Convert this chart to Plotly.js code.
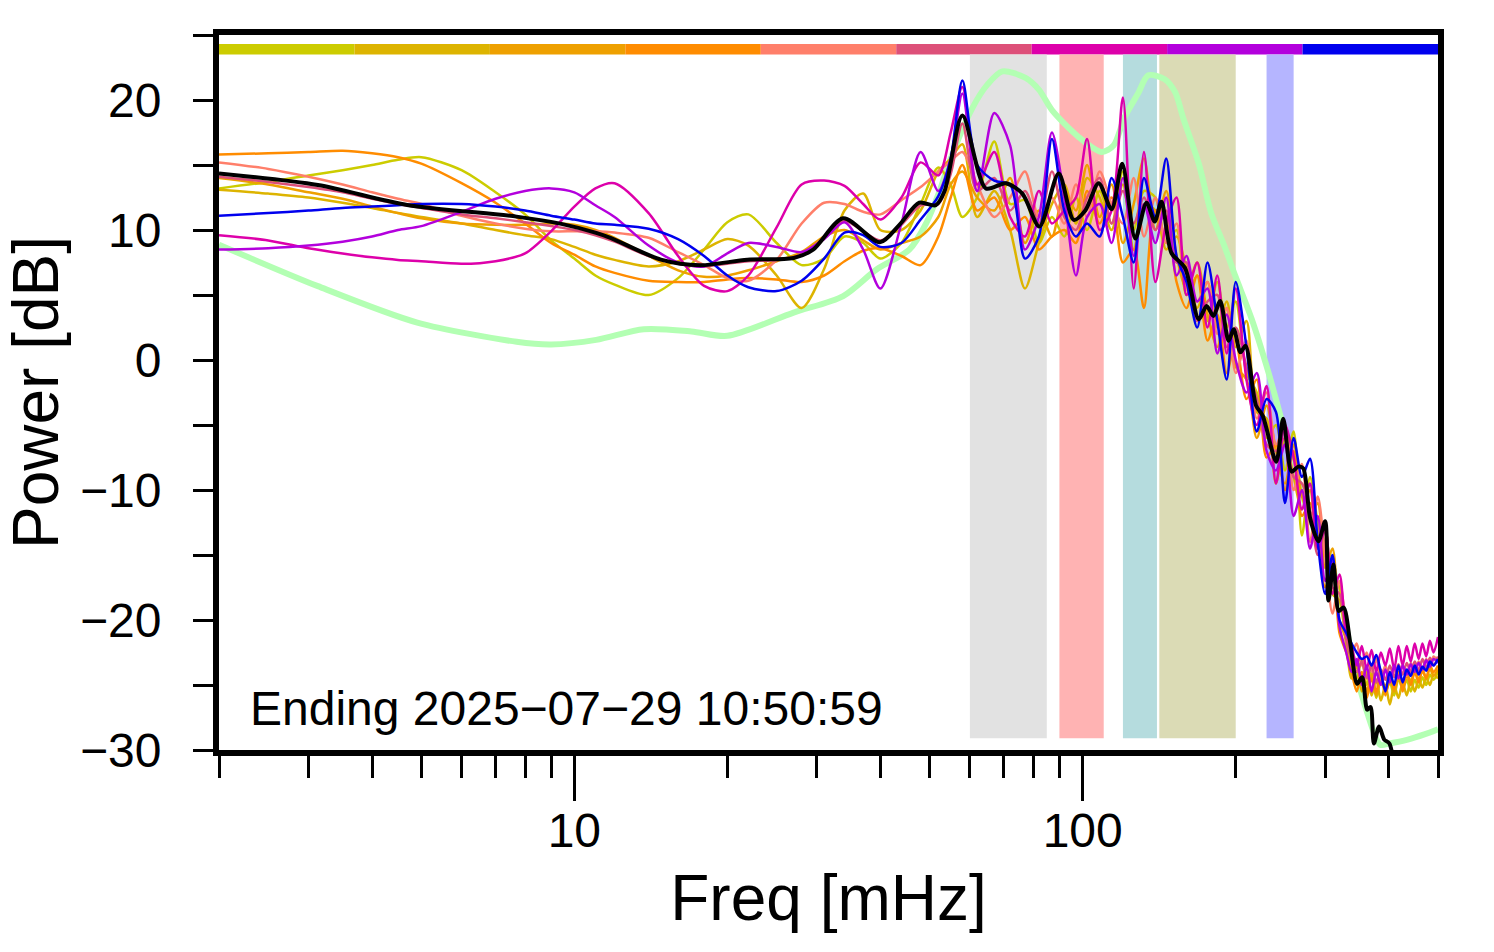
<!DOCTYPE html>
<html>
<head>
<meta charset="utf-8">
<script src="https://cdn.plot.ly/plotly-3.0.1.min.js"></script>
<style>html,body{margin:0;padding:0;background:#fff;}#chart{width:1494px;height:952px;}</style>
</head>
<body>
<div id="chart"></div>
<script>
// ---------- data ----------
const freq = [2, 2.5, 3, 3.5, 4, 4.5, 5, 6, 7, 8, 9, 10, 11, 12, 14, 16, 18, 20, 22, 25, 28, 31, 34, 37, 40, 44, 48, 52, 55, 58,
  62, 67, 72, 77, 82, 87, 92, 97, 102, 108, 114, 120, 126, 132, 139, 146, 153, 160, 168, 176, 184, 192, 200,
  210, 220, 230, 240, 250, 260, 270, 280, 290, 300, 310, 320, 330,
  338, 346, 354, 362, 370, 378, 386, 394, 402, 410, 418, 426, 434, 442, 450, 458, 466, 474, 482, 490, 500];

const pYellow = [13.2, 13.7, 14.2, 14.6, 15.0, 15.4, 15.6, 14.6, 12.9, 11.2, 9.2, 7.8, 6.5, 5.8, 5.0, 6.3, 8.5, 10.6, 11.2, 9.0, 7.3, 7.8, 9.5, 9.0, 7.8, 9.0, 12.0, 14.8, 13.5, 11.0,
  12.5, 16.8, 12.0, 12.3, 9.0, 11.0, 9.5, 12.5, 10.0, 13.0, 10.5, 14.5, 10.0, 13.0, 12.5, 9.0, 10.0, 5.0, 6.5, 3.0, 6.0, 2.5, 4.5,
  -1.0, -2.5, -6.0, -5.0, -8.5, -5.5, -13.5, -9.0, -12.5, -15.0, -16.5, -17.5, -21.0,
  -23.5, -24.5, -23.0, -25.0, -24.0, -26.0, -24.5, -25.5, -24.8, -25.8, -24.5, -25.3, -24.6, -25.5, -24.6, -25.2, -24.4, -25.0, -24.2, -24.6, -24.0];
const pGold = [13.1, 12.8, 12.5, 12.1, 11.7, 11.3, 11.0, 10.5, 10.0, 9.6, 9.3, 8.7, 8.1, 7.7, 7.2, 7.6, 8.5, 9.3, 8.8, 6.5, 4.0, 7.0, 11.5, 12.8, 10.0, 10.0, 11.5, 14.5, 15.5, 16.6,
  11.0, 13.0, 10.0, 5.5, 9.0, 12.0, 13.5, 10.5, 14.0, 12.5, 10.0, 13.5, 8.5, 12.0, 11.5, 8.5, 9.5, 7.0, 4.0, 6.0, 2.5, 4.5, 1.0,
  3.0, -4.0, -4.5, -9.5, -6.0, -9.0, -11.5, -10.0, -14.5, -13.0, -18.0, -18.5, -22.0,
  -24.5, -23.5, -25.5, -24.0, -25.8, -24.6, -26.2, -25.0, -26.5, -25.0, -26.0, -24.8, -25.8, -24.6, -25.5, -24.6, -25.2, -24.4, -25.0, -24.2, -24.5];
const pAmber = [14.0, 13.5, 12.9, 12.4, 11.8, 11.3, 10.9, 10.5, 10.4, 10.4, 10.5, 10.4, 10.0, 9.4, 8.0, 6.9, 6.4, 6.5, 6.9, 7.6, 8.3, 9.5, 10.0, 9.2, 8.5, 9.0, 9.5, 11.0, 13.5, 14.5,
  12.5, 11.5, 14.0, 9.0, 11.5, 9.5, 13.0, 11.5, 15.0, 11.0, 13.5, 9.0, 12.0, 15.5, 10.0, 13.0, 8.0, 5.5, 7.5, 3.5, 1.0, 4.0, -0.5,
  -1.5, -6.0, -3.5, -7.0, -9.5, -6.5, -10.5, -12.0, -11.0, -16.0, -14.5, -20.0, -21.5,
  -23.0, -25.0, -24.0, -25.5, -24.2, -25.8, -24.5, -25.2, -24.0, -25.5, -24.3, -25.0, -24.0, -24.8, -23.8, -24.6, -23.9, -24.5, -23.7, -24.3, -23.8];
const pOrange = [15.8, 15.9, 16.0, 16.1, 15.9, 15.6, 15.1, 13.6, 12.1, 10.5, 9.0, 8.1, 7.2, 6.7, 6.1, 6.0, 6.0, 6.2, 6.3, 6.2, 6.0, 6.5, 7.6, 8.4, 8.6, 8.0, 7.3, 9.5, 12.5, 15.0,
  11.5, 12.5, 10.0, 11.0, 8.5, 9.5, 10.0, 9.0, 13.0, 10.5, 12.5, 7.5, 8.5, 4.0, 11.5, 11.0, 6.0, 4.0, 6.5, 1.5, 3.5, -1.0, 1.5,
  -3.0, -1.5, -7.5, -6.5, -10.0, -7.0, -12.0, -11.0, -13.5, -17.5, -16.0, -21.0, -22.5,
  -24.0, -25.5, -24.0, -26.0, -24.5, -25.5, -24.0, -25.8, -24.5, -25.3, -24.0, -25.5, -24.2, -25.0, -24.0, -24.8, -23.8, -24.5, -23.5, -24.0, -23.5];
const pSalmon = [15.2, 14.7, 14.1, 13.5, 12.9, 12.4, 12.0, 11.1, 10.5, 10.1, 9.9, 9.9, 9.9, 9.8, 9.4, 8.3, 7.3, 6.3, 6.1, 7.7, 10.5, 12.1, 12.0, 11.4, 11.2, 12.3, 13.3, 14.5, 15.3, 16.0,
  13.5, 11.0, 12.5, 14.5, 11.0, 12.5, 10.5, 13.5, 11.0, 14.5, 12.0, 10.5, 14.0, 9.5, 12.5, 9.0, 10.5, 5.5, 4.5, 6.0, 2.0, 4.0, -1.0,
  1.5, -4.5, -2.5, -6.5, -5.0, -10.0, -8.0, -14.0, -10.5, -15.0, -19.5, -17.0, -20.5,
  -22.5, -21.8, -23.5, -22.5, -24.0, -23.0, -24.5, -23.5, -24.8, -23.8, -24.5, -23.5, -24.3, -23.3, -24.0, -23.2, -23.8, -23.0, -23.6, -22.8, -23.2];
const pRose = [14.1, 13.7, 13.3, 12.9, 12.4, 12.0, 11.7, 11.2, 10.9, 10.6, 10.3, 10.0, 9.6, 9.1, 8.0, 7.4, 7.2, 7.4, 7.6, 7.7, 8.1, 9.4, 10.7, 9.9, 9.2, 10.4, 11.9, 12.0, 14.3, 18.2,
  13.0, 14.0, 11.5, 13.0, 10.5, 14.5, 11.0, 10.0, 12.5, 14.0, 10.5, 13.0, 10.5, 12.5, 10.0, 11.5, 7.5, 7.5, 3.0, 4.5, 5.0, 1.0, 2.5,
  -0.5, -3.0, -6.5, -7.0, -6.0, -9.0, -9.5, -11.5, -15.0, -13.0, -17.5, -18.0, -21.5,
  -23.0, -24.0, -23.2, -24.5, -23.5, -24.8, -23.8, -24.6, -23.5, -24.4, -23.4, -24.2, -23.3, -24.0, -23.2, -23.9, -23.0, -23.7, -22.9, -23.5, -22.8];
const pMagenta = [9.6, 9.2, 8.6, 8.2, 7.9, 7.7, 7.6, 7.4, 7.6, 8.2, 9.9, 11.8, 13.2, 13.6, 11.3, 8.0, 5.7, 5.3, 6.5, 10.2, 13.5, 13.8, 13.4, 12.0, 10.8, 12.5, 15.2, 14.2, 17.5, 21.0,
  13.5, 16.0, 11.0, 9.5, 13.0, 10.5, 11.5, 12.5, 17.0, 10.0, 11.5, 20.2, 5.5, 16.0, 6.0, 10.5, 12.5, 5.0, 7.5, 2.5, 6.5, 0.5, 5.5,
  -1.5, -5.0, -2.0, -9.5, -5.0, -7.5, -11.5, -9.5, -14.5, -13.0, -18.0, -16.5, -21.0,
  -22.0, -23.5, -22.0, -23.8, -22.3, -24.0, -22.5, -23.5, -22.2, -23.8, -22.0, -23.5, -22.0, -23.2, -21.8, -23.0, -21.8, -22.8, -21.6, -22.5, -21.3];
const pPurple = [8.5, 8.6, 8.8, 9.1, 9.5, 10.0, 10.3, 11.4, 12.4, 13.0, 13.2, 12.9, 11.9, 11.0, 8.8, 7.5, 7.2, 8.2, 9.0, 8.7, 8.3, 9.3, 10.6, 8.5, 5.5, 10.5, 16.0, 13.0, 15.5, 20.5,
  13.0, 19.0, 16.5, 8.5, 11.0, 17.5, 12.5, 6.5, 11.0, 12.0, 9.0, 14.0, 8.0, 12.0, 9.0, 12.5, 6.5, 8.0, 4.5, 5.5, 0.5, 3.5, 0.0,
  -2.5, -1.0, -7.0, -8.5, -6.5, -12.0, -10.0, -14.5, -12.0, -17.0, -15.5, -20.5, -22.5,
  -24.0, -23.0, -25.0, -23.5, -25.5, -24.0, -25.0, -23.8, -24.8, -23.5, -24.5, -23.5, -24.2, -23.4, -24.0, -23.3, -23.8, -23.1, -23.6, -23.0, -23.3];
const pBlue = [11.1, 11.3, 11.5, 11.7, 11.8, 11.9, 12.0, 12.0, 11.8, 11.5, 11.1, 10.8, 10.5, 10.4, 10.1, 9.3, 8.0, 6.5, 5.6, 5.3, 6.1, 7.8, 9.8, 9.6, 8.7, 9.0, 10.8, 12.6, 15.5, 21.5,
  15.0, 13.8, 13.5, 7.8, 9.5, 17.0, 11.5, 9.5, 10.5, 9.5, 14.0, 11.0, 7.5, 14.0, 11.0, 15.5, 8.0, 6.0, 2.5, 7.5, 3.0, -1.5, 6.0,
  1.0, -5.5, -3.0, -4.0, -11.0, -6.0, -9.0, -7.6, -14.0, -18.0, -15.0, -20.0, -21.0,
  -21.8, -22.5, -23.0, -22.8, -23.5, -22.7, -24.0, -25.5, -24.0, -25.0, -23.5, -24.8, -23.8, -24.3, -23.5, -24.2, -23.6, -23.9, -23.2, -23.5, -23.0];

const fMean = [2, 3.13, 4.69, 7.7, 9.43, 11.04, 11.81, 14.8, 17.7, 21.9, 27, 29.5, 33.8, 39.9, 43.6, 47.7, 51.4, 53.5, 58, 64.5,
  70.6, 76.1, 82.2, 89.7, 96, 101.2, 107.5, 114, 119.6, 126.9, 133.5, 138.6, 142.9, 149.5, 158.9, 169.2, 175.3, 180.8, 186.4, 193.7,
  198.2, 204.4, 209.2, 219.2, 225.9, 240.3, 248, 257.7, 265.4, 271.5, 280.1, 290.9, 299.9, 304.4, 311.4, 318.9, 326.1, 336.2, 346.6, 354.6,
  362.8, 368.4, 374, 382.9, 391.9, 401.2, 412, 430];
const pMean = [14.35, 13.46, 11.93, 11.03, 10.47, 9.78, 9.38, 7.72, 7.29, 7.72, 7.85, 8.49, 10.9, 9.05, 10.4, 12.1, 11.9, 13.0, 18.8, 13.2,
  13.6, 12.8, 10.27, 14.35, 10.78, 11.5, 13.6, 11.6, 15.1, 9.35, 12.1, 10.65, 12.18, 8.23, 7.09, 3.13, 4.15, 3.39, 4.53, 1.48,
  2.37, 0.59, 1.09, -3.49, -4.26, -7.82, -4.51, -8.59, -8.2, -8.33, -12.16, -13.94, -12.41, -18.5, -15.73, -19.3, -19.04, -21.84, -24.9, -24.4,
  -26.9, -26.7, -29.5, -28.2, -29.2, -29.5, -31.5, -34];

const fRef = [2, 3.13, 4.91, 7.7, 9, 11.04, 13.7, 17, 20, 27, 33.8, 39.3, 45.6, 49.2, 52.3, 55, 60.7, 65, 69.5, 77.2,
  82, 87.1, 98.2, 109, 115, 121, 128.5, 134.6, 145, 152, 157.7, 169.2, 179, 190.1, 199.7, 215.1, 231.9, 245.7, 262, 282,
  302, 322, 342, 362, 385, 401, 436, 470, 500];
const pRef = [8.87, 5.68, 2.88, 1.4, 1.2, 1.55, 2.37, 2.2, 1.86, 3.65, 4.92, 6.96, 8.49, 10.5, 13.0, 15.5, 19.4, 21.2, 22.2, 21.7,
  20.8, 19.2, 17.15, 16.0, 16.5, 18.7, 20.5, 21.9, 21.6, 20.6, 18.6, 15.1, 11.3, 8.74, 6.45, 3.13, -0.94, -4.5, -8.5, -12.5,
  -14.5, -18.5, -23.5, -27.0, -29.6, -29.5, -29.2, -28.8, -28.4];

const seriesColors = ['#CCCC00', '#DDB400', '#EEA000', '#FF8C00', '#FF7F6A', '#DD5079', '#DD00AA', '#B300DD', '#0000EE'];
const seriesValues = [pYellow, pGold, pAmber, pOrange, pSalmon, pRose, pMagenta, pPurple, pBlue];

const bandStart = [60, 90, 120, 141.5, 230];
const bandEnd = [85, 110, 140, 200, 260];
const bandColors = ['#e2e2e2', '#ffb3b3', '#b5dcde', '#dbdbb5', '#b5b5ff'];

const yTicks = [-30, -20, -10, 0, 10, 20];
const yMinorTicks = [-25, -15, -5, 5, 15, 25];
const xTicks = [10, 100];
const xTickText = ['10', '100'];
const xMinorTicks = [2, 3, 4, 5, 6, 7, 8, 9, 20, 30, 40, 50, 60, 70, 80, 90, 200, 300, 400, 500];

// ---------- traces ----------
const FONT = 'Liberation Sans, Arial, Helvetica, sans-serif';
const traces = [];
traces.push({x: fRef, y: pRef, type: 'scatter', mode: 'lines',
  line: {color: '#b3ffb3', width: 6, shape: 'spline', smoothing: 0.8}, hoverinfo: 'skip'});
seriesValues.forEach((vals, i) => {
  traces.push({x: freq, y: vals, type: 'scatter', mode: 'lines',
    line: {color: seriesColors[i], width: 2.5, shape: 'spline', smoothing: 0.8}, hoverinfo: 'skip'});
});
traces.push({x: fMean, y: pMean, type: 'scatter', mode: 'lines',
  line: {color: '#000000', width: 4, shape: 'spline', smoothing: 0.8}, hoverinfo: 'skip'});

// ---------- shapes ----------
const shapes = [];
bandStart.forEach((s, i) => {
  shapes.push({type: 'rect', xref: 'x', yref: 'y', x0: s, x1: bandEnd[i],
    y0: -29.1, y1: 23.5, fillcolor: bandColors[i], line: {width: 0}, layer: 'below'});
});
seriesColors.forEach((c, i) => {
  shapes.push({type: 'rect', xref: 'paper', yref: 'y', x0: i / seriesColors.length, x1: (i + 1) / seriesColors.length,
    y0: 23.5, y1: 24.3, fillcolor: c, line: {width: 0}, layer: 'below'});
});

const layout = {
  width: 1494, height: 952,
  margin: {l: 219, r: 56, t: 35, b: 202},
  paper_bgcolor: '#ffffff', plot_bgcolor: '#ffffff',
  showlegend: false,
  hovermode: false,
  font: {family: FONT, color: '#000', size: 48},
  xaxis: {
    type: 'log', range: [Math.log10(2), Math.log10(500)],
    tickmode: 'array', tickvals: xTicks, ticktext: xTickText,
    ticks: 'outside', ticklen: 45, tickwidth: 3, tickcolor: '#000',
    minor: {tickmode: 'array', tickvals: xMinorTicks, ticks: 'outside', ticklen: 22, tickwidth: 3, tickcolor: '#000', showgrid: false},
    showline: true, linewidth: 6, linecolor: '#000', mirror: true,
    showgrid: false, zeroline: false,
    tickfont: {family: FONT, size: 48, color: '#000'},
    ticklabelstandoff: -12,
    title: {text: 'Freq [mHz]', font: {family: FONT, size: 64, color: '#000'}, standoff: 22}
  },
  yaxis: {
    range: [-30, 25],
    tickmode: 'array', tickvals: yTicks,
    ticks: 'outside', ticklen: 20, tickwidth: 3, tickcolor: '#000',
    minor: {tickmode: 'array', tickvals: yMinorTicks, ticks: 'outside', ticklen: 20, tickwidth: 3, tickcolor: '#000', showgrid: false},
    showline: true, linewidth: 6, linecolor: '#000', mirror: true,
    showgrid: false, zeroline: false,
    tickfont: {family: FONT, size: 48, color: '#000'},
    ticklabelstandoff: 22,
    title: {text: 'Power [dB]', font: {family: FONT, size: 64, color: '#000'}, standoff: 21}
  },
  shapes: shapes,
  annotations: [{
    text: 'Ending 2025\u221207\u221229 10:50:59', xref: 'paper', yref: 'paper',
    x: 0.024, y: 0.058, xanchor: 'left', yanchor: 'middle', showarrow: false,
    font: {family: FONT, size: 48, color: '#000'}
  }]
};

Plotly.newPlot('chart', traces, layout, {displayModeBar: false, staticPlot: true});
</script>
</body>
</html>
